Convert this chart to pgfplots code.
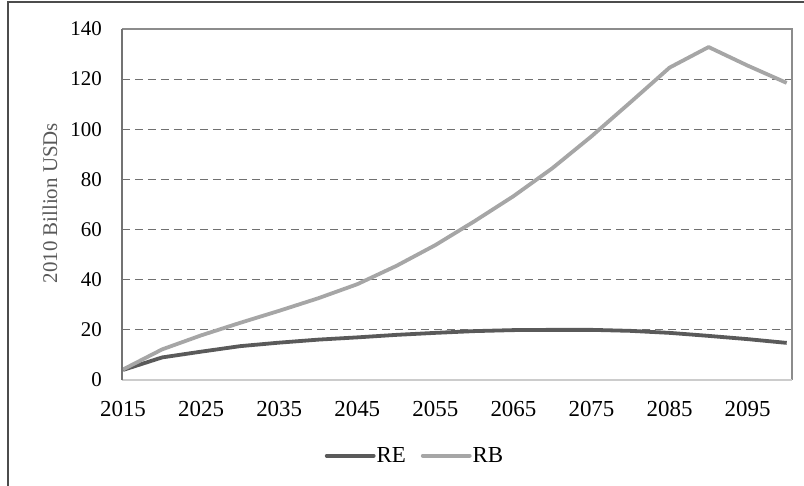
\documentclass[border=0pt]{standalone}
\usepackage{fontspec}
\setmainfont{Liberation Serif}
\usepackage{pgfplots}
\pgfplotsset{compat=1.18}

\definecolor{reline}{HTML}{5A5A5A}
\definecolor{rbline}{HTML}{A6A6A6}
\definecolor{gridc}{HTML}{707070}
\definecolor{labelc}{HTML}{595959}

\begin{document}
\begin{tikzpicture}
\useasboundingbox (-122bp,-106bp) rectangle (682bp,380bp);
% outer chart frame (only left and top show in the reference)
\draw[color=black!70, line width=1.2bp] (-114bp,-106bp) -- (-114bp,378bp) -- (682bp,378bp);
\begin{axis}[
    scale only axis,
    width=670bp,
    height=351bp,
    xmin=2014.87, xmax=2100.68,
    ymin=0, ymax=140,
    xtick={2015,2025,...,2095},
    ytick={0,20,...,140},
    extra y ticks={20,40,...,120},
    extra y tick labels={},
    extra y tick style={grid=major},
    major grid style={color=gridc, line width=1.2bp, dash pattern=on 8bp off 5bp},
    major tick length=0pt,
    axis line style={draw=none},
    /pgf/number format/assume math mode=true,
    /pgf/number format/1000 sep={},
    yticklabel style={inner sep=0pt, xshift=-20bp, font=\fontsize{21}{25}\selectfont, text=black},
    xticklabel style={inner sep=0pt, yshift=-21bp, font=\fontsize{23}{27}\selectfont, text=black},
    ylabel={2010 Billion USDs},
    ylabel style={at={(axis description cs:-0.1075,0.504)}, anchor=center,
        font=\fontsize{21}{25}\selectfont, text=labelc},
    legend columns=2,
    legend style={draw=none, fill=none, at={(axis description cs:0.4366,0)}, yshift=-75.7bp,
        anchor=center, inner sep=0pt, font=\fontsize{23}{27}\selectfont,
        nodes={inner sep=1bp},
        /tikz/every even column/.append style={column sep=14bp}},
    legend image code/.code={\draw[#1, line cap=round] (0bp,0bp) -- (47bp,0bp);},
    every axis plot/.append style={line width=3.8bp, line join=round, no markers},
    clip=false,
]
\addplot[color=reline] coordinates {
(2015,4.0) (2020,9.0) (2025,11.3) (2030,13.5) (2035,14.9) (2040,16.1)
(2045,17.0) (2050,18.0) (2055,18.8) (2060,19.5) (2065,19.9) (2070,20.0)
(2075,20.0) (2080,19.6) (2085,18.8) (2090,17.6) (2095,16.3) (2100,14.8)};
\addplot[color=rbline] coordinates {
(2015,4.2) (2020,12.2) (2025,17.8) (2030,22.8) (2035,27.6) (2040,32.6)
(2045,38.2) (2050,45.5) (2055,53.8) (2060,63.3) (2065,73.3) (2070,84.5)
(2075,97.2) (2080,110.8) (2085,124.6) (2090,132.8) (2095,125.4) (2100,118.5)};
\legend{RE, RB}
% plot area frame
\draw[color=black!45, line width=1.2bp] (rel axis cs:0,1) -- (rel axis cs:1,1) -- (rel axis cs:1,0);
\draw[color=black!20, line width=1.2bp] (rel axis cs:0,0) -- (rel axis cs:1,0);
\draw[color=black!55, line width=1.5bp] (rel axis cs:0,0) -- (rel axis cs:0,1);
\end{axis}
\end{tikzpicture}
\end{document}
